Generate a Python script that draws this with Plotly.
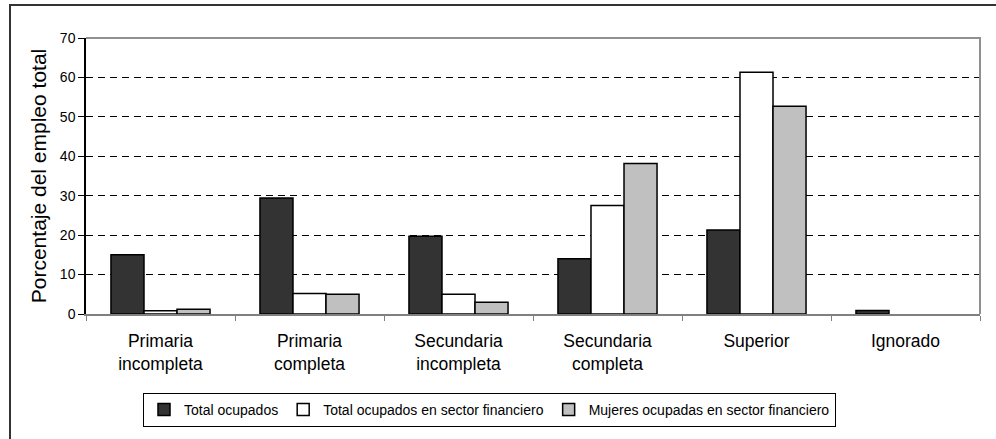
import plotly.graph_objects as go

categories = ["Primaria<br>incompleta", "Primaria<br>completa", "Secundaria<br>incompleta",
              "Secundaria<br>completa", "Superior", "Ignorado"]
total_ocupados = [15.0, 29.4, 19.7, 14.0, 21.3, 0.9]
total_financiero = [0.85, 5.2, 5.0, 27.5, 61.3, None]
mujeres_financiero = [1.2, 5.0, 2.95, 38.2, 52.7, None]
series_names = ["Total ocupados", "Total ocupados en sector financiero",
                "Mujeres ocupadas en sector financiero"]
y_ticks = [0, 10, 20, 30, 40, 50, 60, 70]

W, H = 996, 439
L, R, T, B = 86, 16, 38, 125
pw, ph = W - L - R, H - T - B

def px_x(x):
    return (x - L) / pw

def px_y(y):
    return (H - B - y) / ph

fig = go.Figure()
colors = ["#333333", "#ffffff", "#c0c0c0"]
for name, vals, col in zip(series_names, [total_ocupados, total_financiero, mujeres_financiero], colors):
    fig.add_trace(go.Bar(x=categories, y=vals, name=name,
                         marker=dict(color=col, line=dict(color="#000000", width=1.5))))

font_family = "Liberation Sans, Arial, sans-serif"
fig.update_layout(
    width=W, height=H,
    margin=dict(l=L, r=R, t=T, b=B, autoexpand=False),
    paper_bgcolor="white", plot_bgcolor="white",
    barmode="group", bargap=0.335, bargroupgap=0,
    font=dict(family=font_family, color="#000000"),
    showlegend=True,
    legend=dict(orientation="h", x=px_x(489.5), xanchor="center", y=px_y(393), yanchor="top",
                bordercolor="#000000", borderwidth=1, bgcolor="white",
                font=dict(size=14, family=font_family), traceorder="normal",
                itemwidth=30, tracegroupgap=0),
    xaxis=dict(showline=True, linecolor="#808080", linewidth=1.5, ticks="outside",
               tickson="boundaries", ticklen=5, tickcolor="#808080", showgrid=False,
               ticklabelstandoff=10,
               tickfont=dict(size=17.5, family=font_family), fixedrange=True),
    yaxis=dict(range=[0, 70], tickvals=y_ticks, showline=True, linecolor="#000000", linewidth=1.5,
               ticks="outside", ticklen=6, tickcolor="#000000",
               showgrid=True, gridcolor="#000000", gridwidth=1, griddash="7px,5px",
               zeroline=False, tickfont=dict(size=14, family=font_family), fixedrange=True,
               title=dict(text="Porcentaje del empleo total", font=dict(size=21, family=font_family),
                          standoff=8)),
    shapes=[
        dict(type="path", xref="paper", yref="paper", path="M 0,1 L 1,1 L 1,0",
             line=dict(color="#909090", width=2), layer="above"),
        dict(type="rect", xref="paper", yref="paper", x0=px_x(10), x1=px_x(1010),
             y0=px_y(460), y1=px_y(5), line=dict(color="#333333", width=2), layer="above"),
    ],
)

fig.write_html("out.html", config={"displayModeBar": False},
               post_script="document.body.style.margin='0';")
